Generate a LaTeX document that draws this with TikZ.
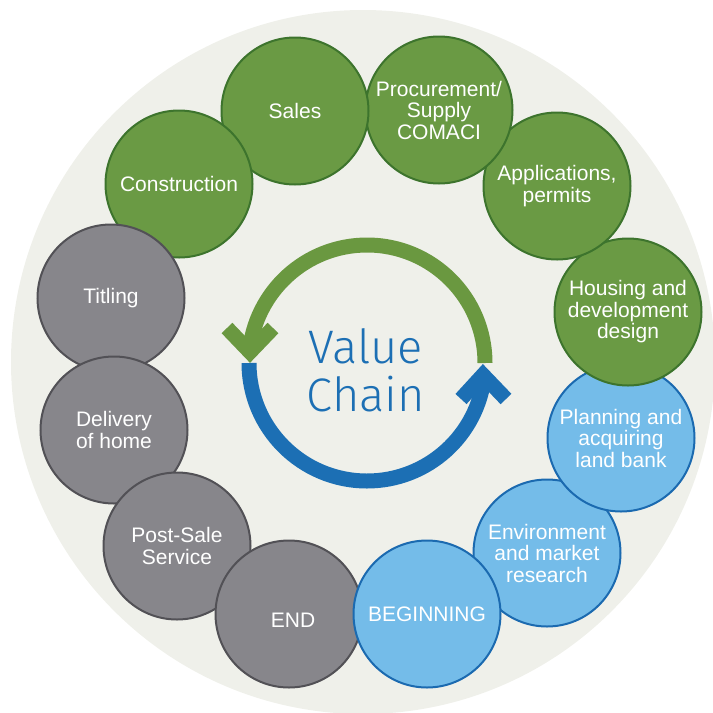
\documentclass[tikz,border=0pt]{standalone}
\usepackage{fontspec}
\setmainfont{Liberation Sans}
\newfontfamily\vcfont{Fira Sans Light}

\definecolor{bgdisc}{HTML}{EFF0EA}
\definecolor{stgreen}{HTML}{6A9A44}
\definecolor{stgreenline}{HTML}{3D742D}
\definecolor{stgray}{HTML}{87868B}
\definecolor{stgrayline}{HTML}{525156}
\definecolor{stblue}{HTML}{74BCE9}
\definecolor{stblueline}{HTML}{1B6AB0}
\definecolor{cycgreen}{HTML}{6A9840}
\definecolor{cycblue}{HTML}{1C6FB4}

\tikzset{
  stagefont/.style={text=white, align=center, font=\fontsize{21}{21.5}\selectfont},
  stage/.style={circle, minimum size=147pt, inner sep=0pt, line width=2pt, stagefont},
  greenstage/.style={stage, fill=stgreen, draw=stgreenline},
  graystage/.style={stage, fill=stgray, draw=stgrayline},
  bluestage/.style={stage, fill=stblue, draw=stblueline},
  cyclearc/.style={line width=15pt, line cap=butt, line join=miter, miter limit=10},
  titleword/.style={anchor=base, inner sep=0pt, text=cycblue,
    font=\vcfont\fontsize{47}{48}\selectfont}
}

\begin{document}
\begin{tikzpicture}[x=1pt, y=-1pt]
  \useasboundingbox (0,0) rectangle (713,713);

  % backdrop disc
  \fill[bgdisc] (363,362) circle[radius=352];

  % stages, drawn so that each one overlaps the previous
  \node[bluestage]  (env)   at (547,553) {Environment\\and market\\research};
  \node[bluestage]  (plan)  at (621,438) {Planning and\\acquiring\\land bank};
  \node[greenstage] (house) at (628,312) {Housing and\\development\\design};
  \node[greenstage] (apps)  at (557,186) {Applications,\\permits};
  \node[greenstage] (proc)  at (439,110) {Procurement/\\Supply\\COMACI};
  \node[greenstage] (sales) at (295,111) {Sales};
  \node[greenstage] (cons)  at (179,184) {Construction};
  \node[graystage]  (title) at (111,298) {Titling};
  \node[graystage]  (deliv) at (114,430) {Delivery\\of home};
  \node[graystage]  (post)  at (177,546) {Post-Sale\\Service};
  \node[graystage]  (finish) at (289,614) {};
  \node[stagefont]  (finishlabel) at (293,620) {END};
  \node[bluestage]  (begin) at (427,614) {BEGINNING};

  % cycle arrows around the title
  \draw[cyclearc, cycgreen] ([shift={(0:118)}]367,363) arc[start angle=0, end angle=-175, radius=118];
  \draw[cyclearc, cycgreen] (227,328) -- (250,352) -- (273,328);
  \draw[cyclearc, cycblue] ([shift={(180:118)}]367,363) arc[start angle=180, end angle=6, radius=118];
  \draw[cyclearc, cycblue] (461,399) -- (483,375) -- (506,399);

  % centre title
  \node[titleword] (valueword) at (366,363) {Value};
  \node[titleword] (chainword) at (366,411) {Chain};
\end{tikzpicture}
\end{document}
